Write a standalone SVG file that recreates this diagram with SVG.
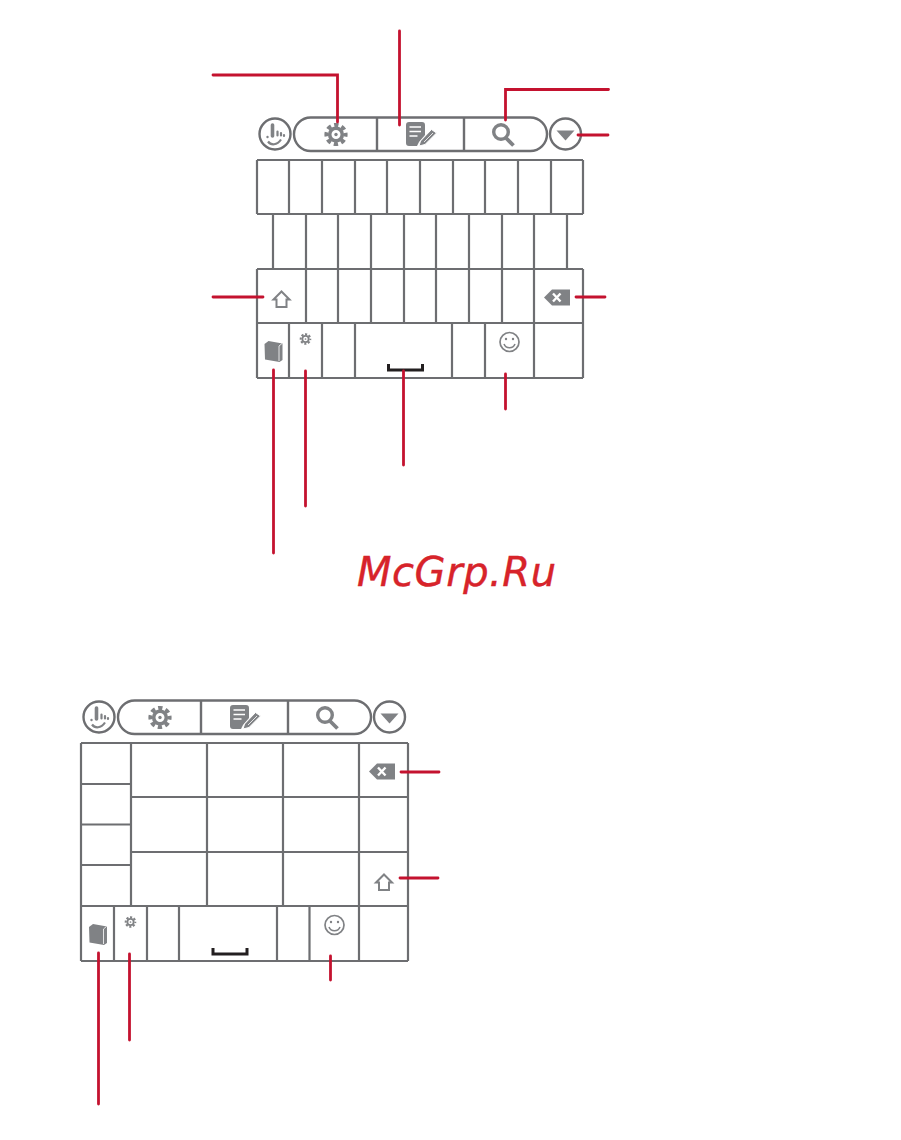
<svg xmlns="http://www.w3.org/2000/svg" width="901" height="1140" viewBox="0 0 901 1140">
<style>
.k{fill:none;stroke:#6d6e71;stroke-width:2.2}
.t{fill:none;stroke:#6d6e71;stroke-width:2.4}
.i{fill:#808285}
.o{fill:none;stroke:#808285}
.r{fill:none;stroke:#c4122f;stroke-width:2.800;stroke-linecap:round}
.s{fill:none;stroke:#231f20;stroke-width:3}
.wm{font-family:"DejaVu Sans",sans-serif;font-style:italic;font-size:40px;letter-spacing:0.550px;fill:#d8232a;stroke:#d2232a;stroke-width:0.400}
</style>
<defs>
<g id="gear">
<circle class="o" r="6.300" stroke-width="3.600"/>
<circle class="o" r="9.600" stroke-width="4" stroke-dasharray="4.300 3.240" stroke-dashoffset="2.150"/>
<circle class="i" r="1.700"/>
</g>
<g id="toolbar">
<circle class="t" cx="275" cy="134" r="15.500"/>
<path d="M272.500 125v11" stroke="#808285" stroke-width="3.600" stroke-linecap="round" fill="none"/>
<path d="M277.500 131.500v4M281 133v2.500M284 135v1" stroke="#808285" stroke-width="2.200" stroke-linecap="round" fill="none"/>
<circle class="i" cx="267.500" cy="137" r="1.200"/>
<path d="M268 141.500c3 4 9 4 13-2" class="o" stroke-width="2.200"/>
<rect class="t" x="294" y="117.500" width="253" height="33.500" rx="16.700"/>
<path class="t" d="M377 117.500V151M464 117.500V151" stroke-width="3"/>
<use href="#gear" x="336" y="134.500"/>
<path class="i" d="M409 122h13a3 3 0 0 1 3 3v10l-6 7-2 4h-8a3 3 0 0 1-3-3v-18a3 3 0 0 1 3-3z"/>
<path d="M409.500 127h11.500M409.500 131.500h11.500M409.500 136h8" stroke="#fff" stroke-width="1.600" fill="none"/>
<path d="M419 146l1.500-5 11-11.500 5 3.500-11.500 11.500z" class="i" stroke="#fff" stroke-width="1"/>
<path d="M424 142l9-9" stroke="#fff" stroke-width="0.800" fill="none"/>
<circle class="o" cx="501" cy="132" r="7.300" stroke-width="3.400"/>
<path class="o" d="M506 138l7.500 7.500" stroke-width="3.800"/>
<circle class="t" cx="565.500" cy="134" r="15.500"/>
<path class="i" d="M556.500 130.500h18l-9 10z"/>
</g>
<g id="shift"><path class="o" stroke-width="2" d="M0-8l8 8h-3v7.500h-10v-7.500h-3z"/></g>
<g id="bksp"><path class="i" d="M-12 0l8-8h18v16h-18z"/><path d="M-3-4l7.500 8M4.500-4l-7.500 8" stroke="#fff" stroke-width="2.400" fill="none"/></g>
<g id="book"><path class="i" d="M-9-7l4-3 14 2.500v16.500l-3 2-14.500-2.500z"/><path d="M8.500-7.500l-3 2.500v15" stroke="#fff" stroke-width="0.800" fill="none"/></g>
<g id="smile"><circle class="o" r="9.500" stroke-width="1.700"/><circle class="i" cx="-3.500" cy="-3" r="1.200"/><circle class="i" cx="3.500" cy="-3" r="1.200"/><path class="o" stroke-width="1.600" d="M-5.500 2c2 5 9 5 11 0"/></g>
<path id="space" class="s" d="M0 0v6h34v-6"/>
</defs>

<g id="watermark"><text class="wm" x="357" y="586">McGrp.Ru</text></g>

<g id="keyboard-portrait">
<g id="portrait-toolbar"><use href="#toolbar"/></g>
<g id="portrait-keys">
<path class="k" d="M257 160H583M257 214H583M257 269H583M257 323H583M257 378H583"/>
<path class="k" d="M257 160V214M289 160V214M322 160V214M355 160V214M387 160V214M420 160V214M453 160V214M485 160V214M518 160V214M551 160V214M583 160V214"/>
<path class="k" d="M273 214V269M306 214V269M338 214V269M371 214V269M404 214V269M436 214V269M469 214V269M502 214V269M534 214V269M567 214V269"/>
<path class="k" d="M257 269V323M306 269V323M338 269V323M371 269V323M404 269V323M436 269V323M469 269V323M502 269V323M534 269V323M583 269V323"/>
<path class="k" d="M257 323V378M289 323V378M322 323V378M355 323V378M452 323V378M485 323V378M534 323V378M583 323V378"/>
</g>
<g id="portrait-shift"><use href="#shift" x="281.500" y="299.500"/></g>
<g id="portrait-backspace"><use href="#bksp" x="556" y="297.500"/></g>
<g id="portrait-book"><use href="#book" x="273.500" y="351"/></g>
<g id="portrait-gear"><use href="#gear" transform="translate(305.500 339) scale(0.5)"/></g>
<g id="portrait-space"><use href="#space" x="388.500" y="364"/></g>
<g id="portrait-smile"><use href="#smile" x="509.500" y="342"/></g>
</g>

<g id="keyboard-landscape">
<g id="landscape-toolbar"><use href="#toolbar" x="-176" y="583"/></g>
<g id="landscape-keys">
<path class="k" d="M81 743H408M81 906H408M81 961H408M131 797H408M131 852H408M81 784H131M81 824.500H131M81 865H131"/>
<path class="k" d="M81 743V961M131 743V906M207 743V906M283 743V906M359 743V906M408 743V961"/>
<path class="k" d="M114 906V961M147 906V961M179 906V961M277 906V961M309.500 906V961M359 906V961"/>
</g>
<g id="landscape-backspace"><use href="#bksp" x="381" y="771.500"/></g>
<g id="landscape-shift"><use href="#shift" x="384" y="882.500"/></g>
<g id="landscape-book"><use href="#book" x="98" y="934"/></g>
<g id="landscape-gear"><use href="#gear" transform="translate(130.500 922) scale(0.5)"/></g>
<g id="landscape-space"><use href="#space" x="213" y="948"/></g>
<g id="landscape-smile"><use href="#smile" x="334.500" y="925"/></g>
</g>

<g id="connectors">
<path class="r" d="M213 75H337.500V122"/>
<path class="r" d="M399.500 31V125"/>
<path class="r" d="M608.500 89.500H505.500V120"/>
<path class="r" d="M608 135H578"/>
<path class="r" d="M213 297H263"/>
<path class="r" d="M605 297H576"/>
<path class="r" d="M273.500 370V553"/>
<path class="r" d="M305.500 371V506"/>
<path class="r" d="M403.500 371V465"/>
<path class="r" d="M505.500 374V409"/>
<path class="r" d="M439 772H401"/>
<path class="r" d="M438 878H400"/>
<path class="r" d="M98.500 953V1104"/>
<path class="r" d="M129.500 954V1040"/>
<path class="r" d="M330.500 956V980"/>
</g>
</svg>
